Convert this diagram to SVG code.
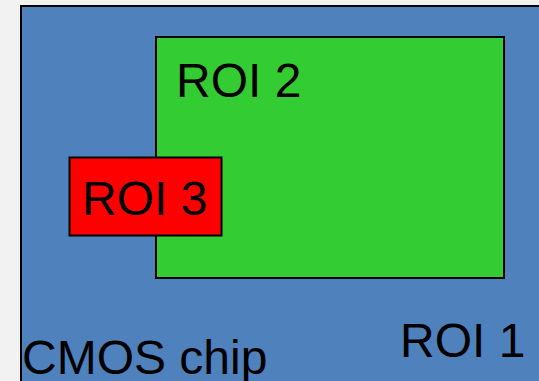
<svg xmlns="http://www.w3.org/2000/svg" width="539" height="381" viewBox="0 0 539 381">
<style>
text{font-family:"Liberation Sans",Arial,sans-serif;font-size:48px;fill:#000}
rect{stroke:#000;stroke-width:2}
</style>
<rect x="0" y="0" width="539" height="381" fill="#f2f2f2" style="stroke:none"/>
<g id="roi1">
<rect x="21" y="6" width="530" height="390" fill="#4f81bd"/>
<text x="400" y="357">ROI 1</text>
<text x="22" y="374">CMOS chip</text>
</g>
<g id="roi2">
<rect x="156" y="37" width="348" height="241" fill="#33cc33"/>
<text x="176" y="97">ROI 2</text>
</g>
<g id="roi3">
<rect x="69.5" y="157.5" width="152" height="78" fill="#ff0000"/>
<text x="82" y="215">ROI 3</text>
</g>
<g id="connectors"></g>
</svg>
